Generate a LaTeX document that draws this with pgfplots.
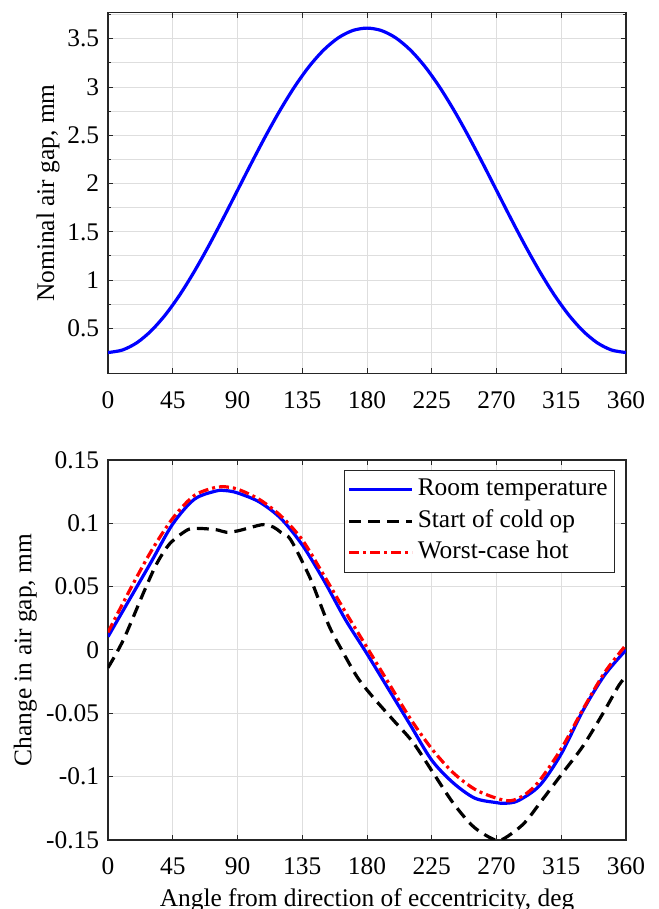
\documentclass[border=0pt]{standalone}
\usepackage{fontspec}
\setmainfont{Liberation Serif}
\usepackage{pgfplots}
\pgfplotsset{compat=1.18}

\definecolor{axgray}{RGB}{38,38,38}
\definecolor{gridgray}{RGB}{222,222,222}
\definecolor{mblue}{RGB}{0,0,255}
\definecolor{mred}{RGB}{255,0,0}

\pgfplotsset{
  mstyle/.style={
    scale only axis, width=259pt,
    xmin=0, xmax=360, xtick={0,45,...,360},
    tick align=inside, major tick length=2.6pt, minor tick length=1.6pt,
    every tick/.style={axgray, line width=0.5pt},
    axis line style={axgray, line width=0.6pt},
    grid style={gridgray, line width=0.5pt},
    minor grid style={gridgray, line width=0.5pt},
    /pgf/number format/assume math mode=true,
    /pgf/number format/fixed,
    /pgf/number format/precision=2,
    xticklabel style={yshift=-4.6pt},
    every axis y label/.style={rotate=90, anchor=base},
    every axis x label/.style={anchor=base},
  }
}

\begin{document}
\fontsize{12.7}{15.2}\selectfont
\begin{tikzpicture}
\path[use as bounding box] (0,0) rectangle (329pt,454.5pt);

% top: nominal air gap
\begin{axis}[mstyle,
    at={(54pt,267.85pt)}, anchor=south west,
    height=180.3pt,
    ymin=0.035, ymax=3.77,
    ytick={0.5,1,1.5,2,2.5,3,3.5},
    minor ytick={0.25,0.75,1.25,1.75,2.25,2.75,3.25,3.75},
    grid=both,
    ylabel={Nominal air gap, mm},
    ylabel style={at={(axis description cs:-0.1042,0.5)}},
    ]
\addplot[mblue, line width=1.6pt, smooth] coordinates {
(0,0.250) (10,0.276) (20,0.351) (30,0.475) (40,0.643) (50,0.850)
(60,1.090) (70,1.355) (80,1.638) (90,1.930) (100,2.222) (110,2.505)
(120,2.770) (130,3.010) (140,3.217) (150,3.385) (160,3.509) (170,3.585)
(180,3.610) (190,3.585) (200,3.509) (210,3.385) (220,3.217) (230,3.010)
(240,2.770) (250,2.505) (260,2.222) (270,1.930) (280,1.638) (290,1.355)
(300,1.090) (310,0.850) (320,0.643) (330,0.475) (340,0.351) (350,0.276)
(360,0.250)};
\end{axis}

% bottom: change in air gap
\begin{axis}[mstyle,
    at={(54pt,34.5pt)}, anchor=south west,
    height=190pt,
    ymin=-0.15, ymax=0.15,
    ytick={-0.15,-0.1,-0.05,0,0.05,0.1,0.15},
    grid=major,
    ylabel={Change in air gap, mm},
    ylabel style={at={(axis description cs:-0.1477,0.5)}},
    xlabel={Angle from direction of eccentricity, deg},
    xlabel style={at={(axis description cs:0.5,-0.1737)}},
    legend style={at={(axis description cs:0.9788,0.9737)}, anchor=north east,
      draw=axgray, line width=0.5pt, fill=white, inner xsep=1.5pt, inner ysep=2.5pt,
      nodes={inner xsep=2pt, inner ysep=1.2pt, text height=9pt, text depth=3pt},
      row sep=1.3pt},
    legend cell align=left,
    legend image code/.code={\draw[#1] (0pt,0pt) -- (31.5pt,0pt);},
    ]
\addplot[mblue, line width=1.6pt, smooth] coordinates {
(0,0.0105) (15,0.040) (30,0.0695) (45,0.0995) (60,0.119) (75,0.1255)
(82,0.1258) (90,0.124) (105,0.117) (120,0.104) (135,0.083) (150,0.055)
(165,0.024) (180,-0.003) (195,-0.031) (210,-0.059) (225,-0.087)
(240,-0.105) (255,-0.117) (270,-0.1205) (276,-0.121) (285,-0.119)
(300,-0.107) (315,-0.082) (330,-0.048) (345,-0.020) (360,0.000)};
\addlegendentry{Room temperature}
\addplot[black, line width=1.6pt, dash pattern=on 6pt off 3.5pt, smooth] coordinates {
(0,-0.014) (10.7,0.008) (24.6,0.045) (33.8,0.068) (43,0.084) (55,0.0947)
(62,0.096) (75,0.095) (82,0.093) (90,0.094) (100,0.097) (108,0.099)
(115,0.097) (120,0.093) (127,0.087) (140,0.058) (147,0.038) (154,0.018)
(161,0.003) (173,-0.021) (184,-0.037) (198,-0.055) (212,-0.073)
(226,-0.097) (240,-0.121) (254,-0.1395) (268,-0.1495) (275,-0.149)
(289,-0.137) (302,-0.118) (316,-0.097) (330,-0.076) (344,-0.050)
(355,-0.028) (360,-0.021)};
\addlegendentry{Start of cold op}
\addplot[mred, line width=1.6pt, dash pattern=on 5pt off 2pt on 1.5pt off 2pt, smooth] coordinates {
(0,0.014) (15,0.047) (30,0.078) (45,0.104) (60,0.122) (75,0.1285)
(80,0.129) (90,0.127) (105,0.119) (120,0.106) (135,0.087) (150,0.059)
(165,0.030) (180,0.002) (195,-0.026) (210,-0.054) (225,-0.078)
(240,-0.097) (255,-0.110) (270,-0.117) (280,-0.119) (290,-0.114)
(300,-0.103) (315,-0.078) (330,-0.047) (345,-0.018) (360,0.004)};
\addlegendentry{Worst-case hot}
\end{axis}
\end{tikzpicture}
\end{document}
